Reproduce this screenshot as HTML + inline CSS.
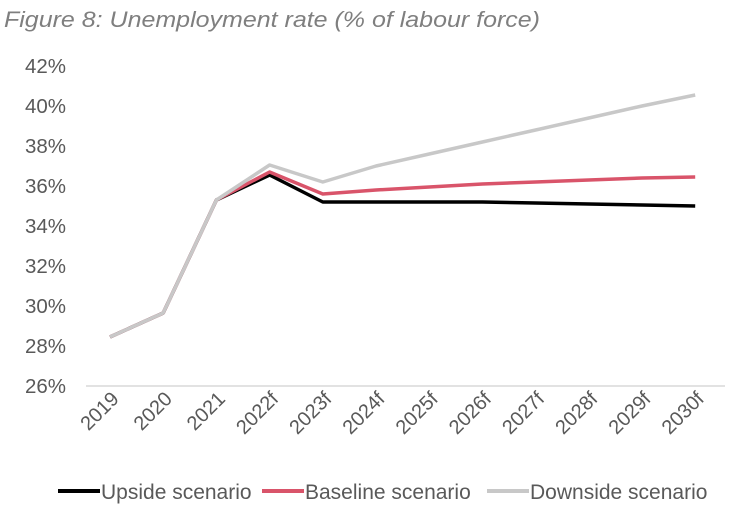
<!DOCTYPE html>
<html><head><meta charset="utf-8"><style>
body{margin:0;background:#fff;width:746px;height:514px;overflow:hidden;font-family:"Liberation Sans",Arial,sans-serif}
</style></head><body>
<svg width="746" height="514" id="chart">
<text x="4" y="27" font-size="22" font-style="italic" fill="#7f7f7f" textLength="536" lengthAdjust="spacingAndGlyphs">Figure 8: Unemployment rate (% of labour force)</text>
<text x="8" y="528" font-size="20" fill="#7f7f7f">Source: EcoSur</text>
</svg>
<script>
const categories=["2019","2020","2021","2022f","2023f","2024f","2025f","2026f","2027f","2028f","2029f","2030f"];
const upside=[28.45,29.65,35.3,36.55,35.2,35.2,35.2,35.2,35.15,35.1,35.05,35.0];
const baseline=[28.45,29.65,35.3,36.7,35.6,35.8,35.95,36.1,36.2,36.3,36.4,36.45];
const downside=[28.45,29.65,35.3,37.05,36.2,37.0,37.6,38.2,38.8,39.4,40.0,40.55];
const yTicks=[26,28,30,32,34,36,38,40,42];
const NS="http://www.w3.org/2000/svg";
const svg=document.getElementById('chart');
const x=i=>110+i*53.2;
const y=v=>386-(v-26)*20;
function mk(t,a){const e=document.createElementNS(NS,t);for(const k in a)e.setAttribute(k,a[k]);svg.appendChild(e);return e;}
const ax=mk('line',{x1:86,x2:725,y1:386,y2:386,stroke:'#d9d9d9','stroke-width':1.5});


yTicks.forEach(t=>{const e=mk('text',{x:66,y:y(t)+7,'text-anchor':'end','font-size':20.5,fill:'#595959'});e.textContent=t+'%';

});
categories.forEach((c,i)=>{const e=mk('text',{x:0,y:0,'text-anchor':'end','font-size':20,fill:'#595959',transform:`translate(${x(i)+10},${400}) rotate(-45)`});e.textContent=c;

});
[[upside,'#000','upside-line'],[baseline,'#d9546a','baseline-line'],[downside,'#c8c8c8','downside-line']].forEach(([d,col,n])=>{
const p=mk('polyline',{points:d.map((v,i)=>x(i)+','+y(v)).join(' '),fill:'none',stroke:col,'stroke-width':3.5,'stroke-linejoin':'round'});

});
[[58,'#000','Upside scenario','legend-upside'],[262,'#d9546a','Baseline scenario','legend-baseline'],[487,'#c8c8c8','Downside scenario','legend-downside']].forEach(([lx,col,t,n])=>{
const g=mk('g',{});


const l=document.createElementNS(NS,'line');l.setAttribute('x1',lx);l.setAttribute('x2',lx+42);l.setAttribute('y1',491);l.setAttribute('y2',491);l.setAttribute('stroke',col);l.setAttribute('stroke-width',4);g.appendChild(l);
const tx=document.createElementNS(NS,'text');tx.setAttribute('x',lx+43);tx.setAttribute('y',499);tx.setAttribute('font-size',21);tx.setAttribute('fill','#595959');tx.textContent=t;g.appendChild(tx);});
</script>
</body></html>
